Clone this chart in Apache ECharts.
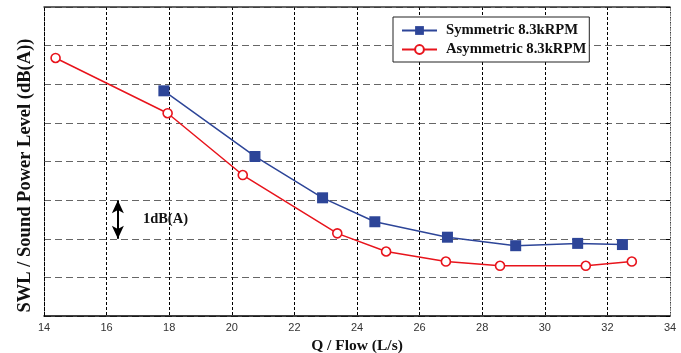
<!DOCTYPE html>
<html>
<head>
<meta charset="utf-8">
<script src="https://cdn.jsdelivr.net/npm/echarts@6/dist/echarts.min.js"></script>
<style>html,body{margin:0;padding:0;background:#fff;}#c{width:681px;height:353px;}</style>
</head>
<body>
<div id="c"></div>
<script>
// Data (relative dB(A), 1 grid step = 1 dB(A))
var symFlow = [17.83, 20.74, 22.90, 24.57, 26.89, 29.07, 31.05, 32.48];
var symSWL  = [5.83, 4.13, 3.06, 2.44, 2.04, 1.82, 1.88, 1.85];
var asymFlow = [14.37, 17.95, 20.35, 23.37, 24.93, 26.84, 28.57, 31.31, 32.78];
var asymSWL  = [6.68, 5.25, 3.65, 2.14, 1.67, 1.41, 1.30, 1.30, 1.41];
var xTicks = [14, 16, 18, 20, 22, 24, 26, 28, 30, 32, 34];
var seriesNames = ['Symmetric 8.3kRPM', 'Asymmetric 8.3kRPM'];
var dbArrow = {x: 16.36, from: 2, to: 3, label: '1dB(A)', labelX: 17.88, labelY: 2.5};

function pairs(xs, ys){ return xs.map(function(x,i){ return [x, ys[i]]; }); }

var serif = '"Liberation Serif","Times New Roman",serif';
var sans = '"Liberation Sans",Arial,sans-serif';
var blue = '#2D4598', red = '#E8141C';

var chart = echarts.init(document.getElementById('c'), null, {renderer:'canvas'});
chart.setOption({
  animation: false,
  backgroundColor: '#fff',
  grid: {left: 44, right: 11, top: 7, bottom: 37, containLabel: false, outerBoundsMode: 'none'},
  legend: {
    data: seriesNames,
    orient: 'vertical',
    left: 393, top: 17,
    padding: [6, 3, 5, 8],
    itemGap: 4,
    itemWidth: 35, itemHeight: 11,
    backgroundColor: '#fff',
    borderColor: '#222', borderWidth: 1,
    textStyle: {fontFamily: serif, fontWeight: 'bold', fontSize: 14.7, color: '#111', padding:[0,0,0,4]}
  },
  xAxis: [{
    type: 'value', min: xTicks[0], max: xTicks[xTicks.length-1], interval: 2,
    position: 'bottom',
    name: 'Q / Flow (L/s)', nameLocation: 'middle', nameGap: 21,
    nameTextStyle: {fontFamily: serif, fontWeight: 'bold', fontSize: 15.5, color: '#111'},
    axisLine: {show: true, onZero: false, lineStyle: {color: '#000', width: 1.5}},
    axisTick: {show: false},
    axisLabel: {fontFamily: sans, fontSize: 11, color: '#333', margin: 6},
    splitLine: {show: true, lineStyle: {color: '#000', width: 1, type: [3, 2]}}
  }, {
    type: 'value', min: xTicks[0], max: xTicks[xTicks.length-1], interval: 2,
    position: 'top',
    axisLine: {show: true, onZero: false, lineStyle: {color: '#333', width: 1.5}},
    axisTick: {show: false}, axisLabel: {show: false}, splitLine: {show: false}
  }],
  yAxis: [{
    type: 'value', min: 0, max: 8, interval: 1,
    position: 'left',
    name: 'SWL / Sound Power Level (dB(A))', nameLocation: 'middle', nameGap: 9,
    nameTextStyle: {fontFamily: serif, fontWeight: 'bold', fontSize: 18.5, color: '#111', padding: [0, 28, 0, 0]},
    axisLine: {show: true, onZero: false, lineStyle: {color: '#000', width: 1, type: [3, 2]}},
    axisTick: {show: false}, axisLabel: {show: false},
    splitLine: {show: true, lineStyle: {color: '#666', width: 1.2, type: [7, 4]}}
  }, {
    type: 'value', min: 0, max: 8, interval: 1,
    position: 'right',
    axisLine: {show: true, onZero: false, lineStyle: {color: '#888', width: 1, type: [3, 2]}},
    axisTick: {show: true, inside: true, length: 4, lineStyle: {color: '#000', width: 1}},
    axisLabel: {show: false}, splitLine: {show: false}
  }],
  series: [{
    name: seriesNames[0], type: 'line',
    data: pairs(symFlow, symSWL),
    symbol: 'rect', symbolSize: 11,
    itemStyle: {color: blue},
    lineStyle: {color: blue, width: 1.5},
    z: 3,
    markLine: {
      silent: true,
      symbol: ['arrow', 'arrow'], symbolSize: [9, 13],
      lineStyle: {color: '#000', width: 2, type: 'solid'},
      label: {show: false},
      data: [[{coord: [dbArrow.x, dbArrow.from]}, {coord: [dbArrow.x, dbArrow.to]}]]
    },
    markPoint: {
      silent: true,
      symbol: 'circle', symbolSize: 0,
      label: {show: true, position: 'inside', formatter: dbArrow.label,
        fontFamily: serif, fontWeight: 'bold', fontSize: 14.5, color: '#111'},
      data: [{coord: [dbArrow.labelX, dbArrow.labelY]}]
    }
  }, {
    name: seriesNames[1], type: 'line',
    data: pairs(asymFlow, asymSWL),
    symbol: 'circle', symbolSize: 9,
    itemStyle: {color: '#fff', borderColor: red, borderWidth: 1.6},
    lineStyle: {color: red, width: 1.5},
    z: 4
  }]
});
</script>
</body>
</html>
